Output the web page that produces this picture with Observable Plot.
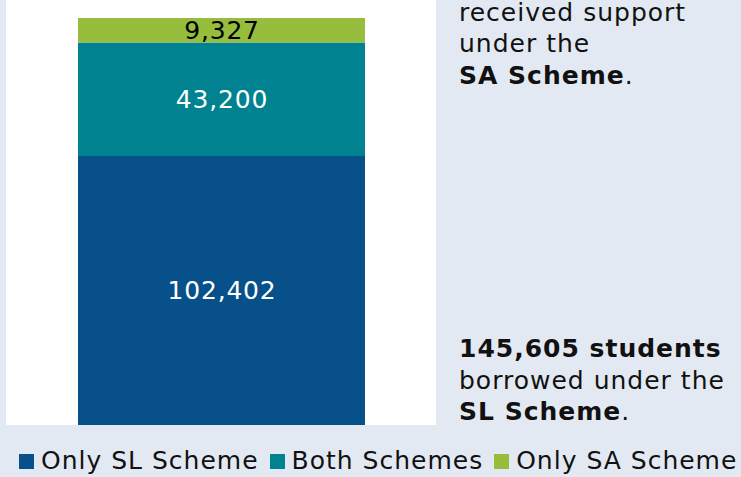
<!DOCTYPE html>
<html>
<head>
<meta charset="utf-8">
<script src="https://cdn.jsdelivr.net/npm/d3@7"></script>
<script src="https://cdn.jsdelivr.net/npm/@observablehq/plot@0.6"></script>
<style>
  html, body { margin: 0; padding: 0; }
  body {
    width: 741px; height: 477px; overflow: hidden; position: relative;
    background: #e3e9f3; font-family: "DejaVu Sans", Verdana, sans-serif; color: #111;
  }
  #chart { position: absolute; left: 6px; top: 0; }
  .note { position: absolute; left: 459px; font-size: 25px; line-height: 31.5px; white-space: nowrap; letter-spacing: 1px; }
  .note b { font-weight: bold; }
  #noteTop div:first-child { line-height: 25px; margin-bottom: 3px; }
  #legend { position: absolute; left: 19px; top: 446px; display: flex; align-items: center;
    font-size: 25px; line-height: 30px; white-space: nowrap; letter-spacing: 1px; }
  #legend .item { display: flex; align-items: center; margin-right: 11px; }
  #legend .sw { width: 15px; height: 15px; margin-right: 7px; display: inline-block; }
</style>
</head>
<body>
<div id="chart"></div>
<div class="note" id="noteTop"></div>
<div class="note" id="noteBottom"></div>
<div id="legend"></div>
<script>
// ---- data ----
const categories = ["Only SL Scheme", "Both Schemes", "Only SA Scheme"];
const values = [102402, 43200, 9327];
const colors = ["#07508a", "#008291", "#96be3c"];
const labelInk = ["white", "white", "black"];
const noteTopLines = [["received support", false], ["under the", false], ["SA Scheme", true, "."]];
const noteBottomLines = [["145,605 students", true], ["borrowed under the", false], ["SL Scheme", true, "."]];

const cum = d3.cumsum(values);
const data = categories.map((c, i) => ({
  series: c, value: values[i], ink: labelInk[i], mid: cum[i] - values[i] / 2
}));
const total = d3.sum(values);
const fmt = d3.format(",");

const chart = Plot.plot({
  width: 430,
  height: 425,
  marginLeft: 72,
  marginRight: 71,
  marginTop: 18,
  marginBottom: 0,
  style: {fontFamily: "DejaVu Sans, Verdana, sans-serif", background: "white", letterSpacing: "0.8px"},
  x: {axis: null},
  y: {axis: null, domain: [0, total]},
  color: {domain: categories, range: colors},
  marks: [
    Plot.barY(data, {y: "value", fill: "series"}),
    Plot.text(data.filter(d => d.ink === "white"), {
      y: "mid", text: d => fmt(d.value), fill: "white", fontSize: 25
    }),
    Plot.text(data.filter(d => d.ink === "black"), {
      y: "mid", text: d => fmt(d.value), fill: "black", fontSize: 25
    })
  ]
});
document.getElementById("chart").appendChild(chart);

function fillNote(el, lines) {
  lines.forEach(([t, bold, tail]) => {
    const div = document.createElement("div");
    if (bold) {
      const b = document.createElement("b");
      b.textContent = t;
      div.appendChild(b);
      if (tail) div.appendChild(document.createTextNode(tail));
    } else {
      div.textContent = t;
    }
    el.appendChild(div);
  });
}
const nt = document.getElementById("noteTop");
nt.style.top = "0px";
fillNote(nt, noteTopLines);
const nb = document.getElementById("noteBottom");
nb.style.top = "333px";
fillNote(nb, noteBottomLines);

const legend = document.getElementById("legend");
categories.forEach((c, i) => {
  const item = document.createElement("span");
  item.className = "item";
  const sw = document.createElement("span");
  sw.className = "sw";
  sw.style.background = colors[i];
  item.appendChild(sw);
  item.appendChild(document.createTextNode(c));
  legend.appendChild(item);
});
</script>
</body>
</html>
